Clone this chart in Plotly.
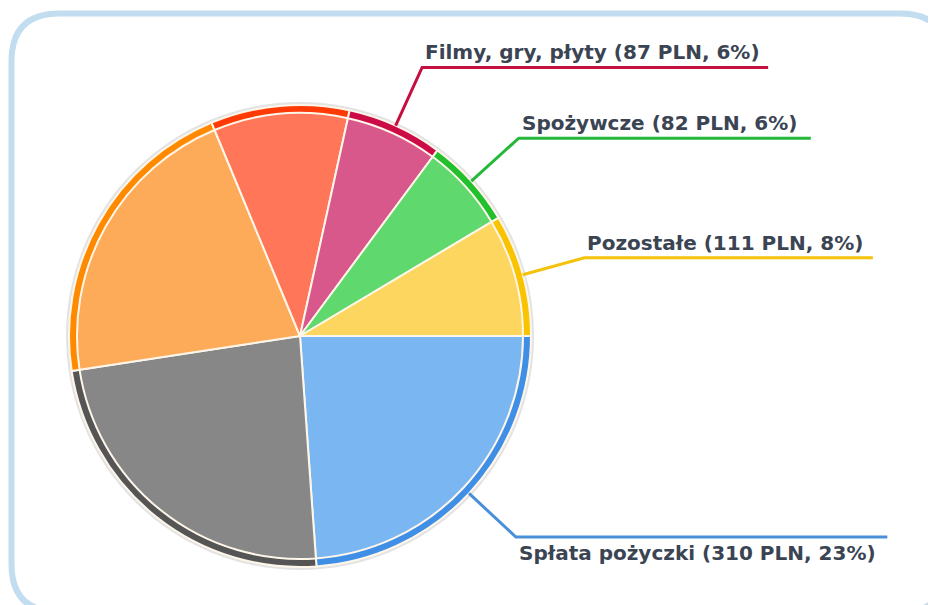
import math
import plotly.graph_objects as go

# ---------------- data ----------------
categories = ["Spłata pożyczki", "Kategoria 2", "Kategoria 3", "Kategoria 4",
              "Filmy, gry, płyty", "Spożywcze", "Pozostałe"]
values_pln = [310, 308, 275, 126, 87, 82, 111]
show_label = [True, False, False, False, True, True, True]

fill_colors = ["#7ab6f2", "#878787", "#fdab58", "#ff7658", "#d9588b", "#5fd86e", "#fdd660"]
rim_colors = ["#3e8fe5", "#555555", "#ff8a00", "#ff3a05", "#cc0c46", "#22c02c", "#f9c300"]
line_colors = ["#4a8fd9", None, None, None, "#c4103f", "#26b83a", "#f4c20a"]

# ---------------- geometry (page pixels) ----------------
W, H = 936, 605
BODY = 8                      # default page margin around the plot div
FW, FH = W - BODY, H - BODY   # figure size
CX, CY = 300, 336
R_SHADOW, R_RIM, R_FILL = 234, 231, 223
ELBOW = 64
FONT_SIZE = 20

# rough advance widths (em) of the bold label font, used to size the leader lines
NARROW = {c: 0.35 for c in "iIlł,. "}
NARROW.update({c: 0.47 for c in "()trf"})
NARROW.update({c: 1.0 for c in "mw%MW"})


def text_width(s):
    return sum(NARROW.get(c, 0.69) for c in s) * FONT_SIZE


def px(x):
    return (x - BODY) / FW


def py(y):
    return 1 - (y - BODY) / FH


def domain(r):
    return dict(x=[px(CX - r), px(CX + r)], y=[py(CY + r), py(CY - r)])


fig = go.Figure()
fig.add_trace(go.Pie(values=[1], labels=["cień"], marker=dict(colors=["#e3e3e3"]),
                     domain=domain(R_SHADOW), textinfo="none", hoverinfo="skip",
                     sort=False, showlegend=False))
fig.add_trace(go.Pie(values=values_pln, labels=categories, sort=False, direction="clockwise",
                     rotation=90, domain=domain(R_RIM), textinfo="none", hoverinfo="skip",
                     marker=dict(colors=rim_colors, line=dict(color="#fff6ea", width=2)),
                     showlegend=False))
fig.add_trace(go.Pie(values=values_pln, labels=categories, sort=False, direction="clockwise",
                     rotation=90, domain=domain(R_FILL), textinfo="none",
                     hovertemplate="%{label}: %{value} PLN (%{percent})<extra></extra>",
                     marker=dict(colors=fill_colors, line=dict(color="#fff6ea", width=2)),
                     showlegend=False))

total = sum(values_pln)
cum = 0.0
shapes = []
annotations = []
for name, v, lab, lc in zip(categories, values_pln, show_label, line_colors):
    start = cum
    cum += v
    if not lab:
        continue
    mid = math.radians((start + v / 2) / total * 360.0)
    x0, y0 = CX + R_RIM * math.cos(mid), CY + R_RIM * math.sin(mid)
    x1, y1 = CX + (R_RIM + ELBOW) * math.cos(mid), CY + (R_RIM + ELBOW) * math.sin(mid)
    text = f"{name} ({v} PLN, {math.floor(100 * v / total)}%)"
    x2 = x1 + 3 + text_width(text) + 9
    path = f"M {px(x0)} {py(y0)} L {px(x1)} {py(y1)} L {px(x2)} {py(y1)}"
    shapes.append(dict(type="path", path=path, xref="paper", yref="paper",
                       line=dict(color=lc, width=3), layer="above"))
    above = math.sin(mid) < 0
    annotations.append(dict(text=f"<b>{text}</b>", x=px(x1 + 1), y=py(y1 - 1 if above else y1 + 2),
                            xref="paper", yref="paper", xanchor="left",
                            yanchor="bottom" if above else "top", showarrow=False,
                            font=dict(family="DejaVu Sans", size=FONT_SIZE, color="#3a4452")))

# rounded frame
fx0, fy0, fx1, fy1, rr = 11.5, 13.5, 948, 612, 48
frame = (f"M {px(fx0 + rr)} {py(fy0)} L {px(fx1 - rr)} {py(fy0)} "
         f"Q {px(fx1)} {py(fy0)} {px(fx1)} {py(fy0 + rr)} L {px(fx1)} {py(fy1 - rr)} "
         f"Q {px(fx1)} {py(fy1)} {px(fx1 - rr)} {py(fy1)} L {px(fx0 + rr)} {py(fy1)} "
         f"Q {px(fx0)} {py(fy1)} {px(fx0)} {py(fy1 - rr)} L {px(fx0)} {py(fy0 + rr)} "
         f"Q {px(fx0)} {py(fy0)} {px(fx0 + rr)} {py(fy0)} Z")
shapes.insert(0, dict(type="path", path=frame, xref="paper", yref="paper",
                      line=dict(color="#c2dcf0", width=6), layer="below"))

fig.update_layout(width=FW, height=FH, margin=dict(l=0, r=0, t=0, b=0),
                  paper_bgcolor="white", plot_bgcolor="white", showlegend=False,
                  shapes=shapes, annotations=annotations)
fig.write_html("out.html")
